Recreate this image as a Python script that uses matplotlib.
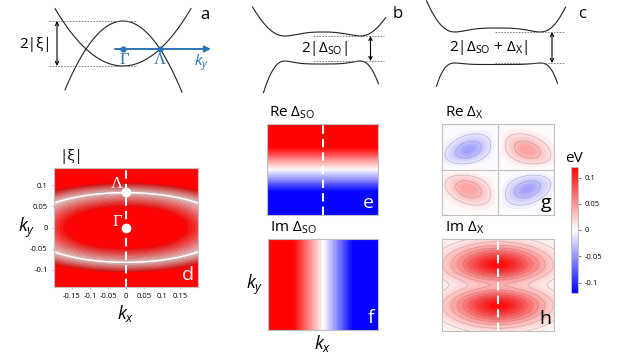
import numpy as np
import matplotlib
matplotlib.use('Agg')
import matplotlib.pyplot as plt
from matplotlib.colors import Normalize
from matplotlib.cm import ScalarMappable

plt.rcParams['font.family'] = ['Open Sans', 'DejaVu Sans']
plt.rcParams['mathtext.fontset'] = 'custom'
plt.rcParams['mathtext.rm'] = 'Open Sans'
plt.rcParams['mathtext.it'] = 'Open Sans:italic'
plt.rcParams['contour.negative_linestyle'] = 'solid'

# ---------------- data ----------------
# schematic band parameters (arbitrary energy units)
a_k0 = 37.0
a_xi_lower = 17.0
a_xi_upper = 28.0
b_k0, b_gap = 37.5, 12.5
b_up = (10.8, 2.47)   # (xi at k=0, power)
b_lo = (9.2, 3.8)
c_k0, c_gap = 42.5, 15.5
c_up = (11.8, 3.03)
c_lo = (7.0, 5.0)

# momentum axes
kx_range = (-0.2, 0.2)
ky_range = (-0.14, 0.14)
kx_ticks = [-0.15, -0.1, -0.05, 0, 0.05, 0.1, 0.15]
kx_ticklabels = ['-0.15', '-0.1', '-0.05', '0', '0.05', '0.1', '0.15']
ky_ticks = [-0.1, -0.05, 0, 0.05, 0.1]
ky_ticklabels = ['-0.1', '-0.05', '0', '0.05', '0.1']
cbar_ticks = [-0.1, -0.05, 0, 0.05, 0.1]
cbar_ticklabels = ['-0.1', '-0.05', '0', '0.05', '0.1']
vlim = 0.12  # eV

# |xi| ellipse
xi_scale, xi_rx, xi_ry = 0.18, 0.28, 0.082
Gamma_k = (0.0, 0.0)
Lambda_k = (0.0, 0.083)
# Delta_SO slopes
so_slope_y, so_slope_x = 1.75, 1.1
# Re Delta_X lobes: peak (eV), centre (|kx|, |ky|), widths, tilt (deg)
x_re_peak = 0.045
x_re_center = (0.105, 0.06)
x_re_width = (0.075, 0.04)
x_re_tilt = -15.0
# Im Delta_X
x_im_amp, x_im_sx, x_im_sy, x_im_c = 60.0, 0.155, 0.067, 0.0006

# ---------------- figure ----------------
W, H = 628, 353
fig = plt.figure(figsize=(W / 100, H / 100), dpi=100)
blue = '#2E75B6'
gridc = '#c0c0c0'


def px_axes(x0, y0, x1, y1):
    return fig.add_axes([x0 / W, 1 - y1 / H, (x1 - x0) / W, (y1 - y0) / H])


def schem_axes(x0, y0, x1, y1, cx, cy):
    ax = px_axes(x0, y0, x1, y1)
    ax.set_xlim(x0 - cx, x1 - cx)
    ax.set_ylim(cy - y1, cy - y0)
    ax.axis('off')
    return ax


def guide(ax, xs, y):
    ax.plot(xs, [y, y], ls=(0, (2, 1.5)), color='#707070', lw=0.6)


def darrow(ax, x, y0, y1):
    ax.annotate('', xy=(x, y0), xytext=(x, y1),
                arrowprops=dict(arrowstyle='<->', lw=0.8, color='k',
                                mutation_scale=6, shrinkA=0, shrinkB=0))


def gapped(k, k0, gap, xi0, p):
    xi = xi0 * (np.abs(k / k0) ** p - 1)
    return np.sqrt(xi ** 2 + gap ** 2)


# ---- panel a ----
ax = schem_axes(0, 0, 215, 95, 123, 49)
k = np.linspace(-68, 68, 300)
ax.plot(k, a_xi_lower * ((k / a_k0) ** 2 - 1), color='#222222', lw=0.8)
k = np.linspace(-58, 59, 300)
ax.plot(k, -a_xi_upper * ((k / a_k0) ** 2 - 1), color='#222222', lw=0.8)
guide(ax, [-74, 14], a_xi_upper)
guide(ax, [-74, 14], -a_xi_lower)
darrow(ax, -66, a_xi_upper, -a_xi_lower)
ax.text(-71, 5, '2|ξ|', ha='right', va='center', fontsize=11)
ax.annotate('', xy=(88, 0), xytext=(-8, 0),
            arrowprops=dict(arrowstyle='-|>', lw=1.4, color=blue,
                            mutation_scale=9, shrinkA=0, shrinkB=0))
ax.plot([Gamma_k[0], a_k0], [0, 0], 'o', color=blue, ms=3.5)
ax.text(1, -3, 'Γ', color=blue, fontsize=12, family='Liberation Serif',
        ha='center', va='top')
ax.text(a_k0, -3, 'Λ', color=blue, fontsize=12, family='Liberation Serif',
        ha='center', va='top')
ax.text(78, -3, '$k_y$', color=blue, fontsize=11, ha='center', va='top')
ax.text(82, 34, 'a', fontsize=12, ha='center', va='center')

# ---- panel b ----
ax = schem_axes(240, 0, 400, 95, 322.5, 48.5)
k = np.linspace(-70, 63, 300)
ax.plot(k, gapped(k, b_k0, b_gap, *b_up), color='#222222', lw=0.8)
k = np.linspace(-59, 56, 300)
ax.plot(k, -gapped(k, b_k0, b_gap, *b_lo), color='#222222', lw=0.8)
guide(ax, [-9.5, 61], b_gap)
guide(ax, [-9.5, 61], -b_gap)
darrow(ax, 48, b_gap, -b_gap)
ax.text(2.5, 0, '2|Δ$_{\\rm SO}$|', ha='center', va='center', fontsize=11)
ax.text(75.5, 34, 'b', fontsize=12, ha='center', va='center')

# ---- panel c ----
ax = schem_axes(415, 0, 600, 95, 497.5, 47.5)
k = np.linspace(-71, 68, 300)
ax.plot(k, gapped(k, c_k0, c_gap, *c_up), color='#222222', lw=0.8)
k = np.linspace(-61, 60, 300)
ax.plot(k, -gapped(k, c_k0, c_gap, *c_lo), color='#222222', lw=0.8)
guide(ax, [-2.5, 66], c_gap)
guide(ax, [-2.5, 66], -c_gap)
darrow(ax, 54.5, c_gap, -c_gap)
ax.text(-9, 0, '2|Δ$_{\\rm SO}$ + Δ$_{\\rm X}$|', ha='center', va='center', fontsize=11)
ax.text(85, 33, 'c', fontsize=12, ha='center', va='center')

# ---------------- maps ----------------
kx = np.linspace(kx_range[0], kx_range[1], 400)
ky = np.linspace(ky_range[0], ky_range[1], 300)
KX, KY = np.meshgrid(kx, ky)
levels = np.linspace(-vlim, vlim, 49)
norm = Normalize(-vlim, vlim)
cmap = plt.get_cmap('bwr')


def map_axes(x0, y0, x1, y1):
    ax = px_axes(x0, y0, x1, y1)
    ax.set_xlim(*kx_range)
    ax.set_ylim(*ky_range)
    for s in ax.spines.values():
        s.set_color(gridc)
        s.set_linewidth(0.8)
    ax.set_xticks([])
    ax.set_yticks([])
    return ax


def fill(ax, Z):
    ax.contourf(KX, KY, np.clip(Z, -vlim * 0.999, vlim * 0.999),
                levels=levels, cmap=cmap, norm=norm)


# ---- panel d ----
ax = map_axes(54, 168, 198, 287)
xi_signed = xi_scale * ((KX / xi_rx) ** 2 + (KY / xi_ry) ** 2 - 1)
xi_abs = np.abs(xi_signed)
fill(ax, xi_abs)
ax.contour(KX, KY, xi_abs, levels=np.linspace(0.008, 0.112, 14),
           colors='#6a3030', linewidths=0.35, alpha=0.45)
ax.contour(KX, KY, xi_signed, levels=[0], colors='white', linewidths=1.0)
ax.axvline(0, color='white', ls=(0, (4, 2.5)), lw=1.5)
ax.plot([Gamma_k[0], Lambda_k[0]], [Gamma_k[1], Lambda_k[1]], 'o',
        color='white', ms=6)
ax.text(-0.01, Lambda_k[1] + 0.02, 'Λ', color='white', fontsize=12,
        family='Liberation Serif', ha='right', va='center')
ax.text(-0.01, Gamma_k[1] + 0.012, 'Γ', color='white', fontsize=12,
        family='Liberation Serif', ha='right', va='center')
ax.text(0.19, -0.132, 'd', color='white', fontsize=14, ha='right', va='bottom')
ax.set_xticks(kx_ticks)
ax.set_xticklabels(kx_ticklabels)
ax.set_yticks(ky_ticks)
ax.set_yticklabels(ky_ticklabels)
ax.tick_params(labelsize=5.5, length=1.5, color=gridc, pad=3)
ax.text(0.04, 1.03, '|ξ|', transform=ax.transAxes, fontsize=11,
        ha='left', va='bottom')
ax.set_ylabel('$k_y$', fontsize=13, rotation=0, va='center', ha='center')
ax.yaxis.set_label_coords(-0.19, 0.5)
ax.set_xlabel('$k_x$', fontsize=13, labelpad=2)

# ---- panel e ----
ax = map_axes(267, 124, 378, 215)
fill(ax, so_slope_y * KY + 0 * KX)
ax.axvline(0, color='white', ls=(0, (4, 2.5)), lw=1.5)
ax.text(0.185, -0.132, 'e', color='white', fontsize=14, ha='right', va='bottom')
ax.text(0.02, 1.03, 'Re Δ$_{\\rm SO}$', transform=ax.transAxes, fontsize=11,
        ha='left', va='bottom')

# ---- panel f ----
ax = map_axes(268, 239, 378, 330)
fill(ax, -so_slope_x * KX + 0 * KY)
ax.axvline(0, color='white', ls=(0, (4, 2.5)), lw=1.5, alpha=0.7)
ax.text(0.185, -0.132, 'f', color='white', fontsize=14, ha='right', va='bottom')
ax.text(0.02, 1.03, 'Im Δ$_{\\rm SO}$', transform=ax.transAxes, fontsize=11,
        ha='left', va='bottom')
ax.set_ylabel('$k_y$', fontsize=13, rotation=0, labelpad=10, va='center')
ax.set_xlabel('$k_x$', fontsize=13, labelpad=2)

# ---- panel g ----
ax = map_axes(442, 124, 554, 215)
U, V = np.abs(KX) - x_re_center[0], np.abs(KY) - x_re_center[1]
th = np.deg2rad(x_re_tilt)
Ur = U * np.cos(th) + V * np.sin(th)
Vr = -U * np.sin(th) + V * np.cos(th)
re_x = (x_re_peak * np.sign(KX * KY) * np.tanh(np.abs(KX) / 0.02) * np.tanh(np.abs(KY) / 0.02)
        * np.exp(-(Ur / x_re_width[0]) ** 2 - (Vr / x_re_width[1]) ** 2))
fill(ax, re_x)
ax.contour(KX, KY, re_x, levels=[-0.03, -0.012, 0.012, 0.03],
           colors='#8080a0', linewidths=0.4, alpha=0.6)
ax.axvline(0, color=gridc, lw=0.8)
ax.axhline(0, color=gridc, lw=0.8)
ax.text(0.19, -0.132, 'g', color='black', fontsize=14, ha='right', va='bottom')
ax.text(0.03, 1.03, 'Re Δ$_{\\rm X}$', transform=ax.transAxes, fontsize=11,
        ha='left', va='bottom')

# ---- panel h ----
ax = map_axes(442, 239, 554, 331)
im_x = x_im_amp * (KY ** 2 + x_im_c) * np.exp(-(KX / x_im_sx) ** 2 - (KY / x_im_sy) ** 2)
fill(ax, im_x)
ax.contour(KX, KY, im_x, levels=np.arange(0.01, 0.11, 0.0125),
           colors='#707070', linewidths=0.4, alpha=0.45)
ax.axvline(0, color='white', ls=(0, (4, 2.5)), lw=1.5)
ax.text(0.19, -0.132, 'h', color='black', fontsize=14, ha='right', va='bottom')
ax.text(0.03, 1.03, 'Im Δ$_{\\rm X}$', transform=ax.transAxes, fontsize=11,
        ha='left', va='bottom')

# ---- colorbar ----
cax = px_axes(571, 167, 578, 293)
cb = fig.colorbar(ScalarMappable(norm=norm, cmap=cmap), cax=cax, ticks=cbar_ticks)
cb.ax.set_yticklabels(cbar_ticklabels)
cb.ax.tick_params(labelsize=5.5, length=2, color='#808080', pad=3)
cb.outline.set_edgecolor(gridc)
cb.outline.set_linewidth(0.8)
cax.text(0.5, 1.01, 'eV', transform=cax.transAxes, fontsize=11,
         ha='center', va='bottom')

fig.savefig('out.png', dpi=100)
